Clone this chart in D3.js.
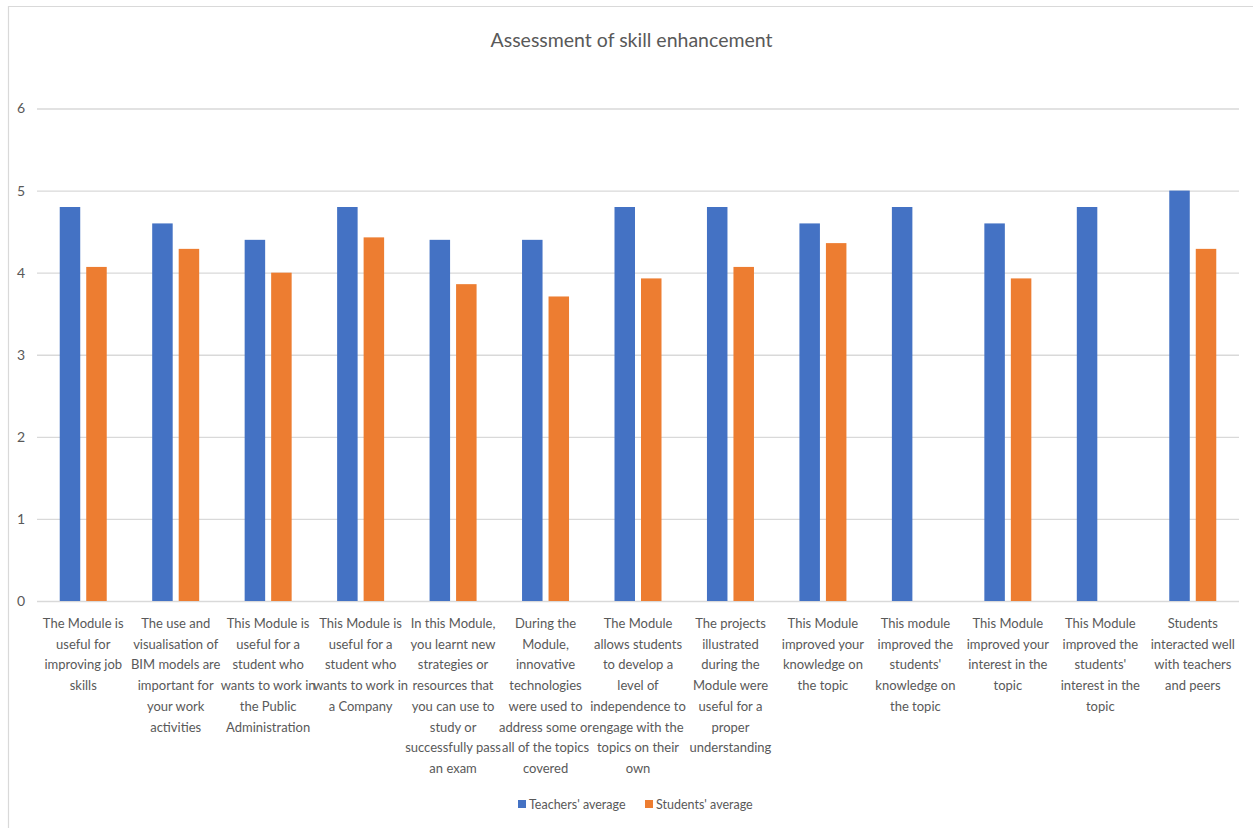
<!DOCTYPE html>
<html>
<head>
<meta charset="utf-8">
<script src="https://cdn.jsdelivr.net/npm/d3@7"></script>
<style>
  html, body { margin: 0; padding: 0; background: #fff; }
  svg { display: block; font-family: Lato, "Open Sans", sans-serif; }
</style>
</head>
<body>
<svg id="chart" width="1253" height="828"></svg>
<script>
// Survey items, each written as the lines it is shown on under the axis
const categories = [
  ["The Module is", "useful for", "improving job", "skills"],
  ["The use and", "visualisation of", "BIM models are", "important for", "your work", "activities"],
  ["This Module is", "useful for a", "student who", "wants to work in", "the Public", "Administration"],
  ["This Module is", "useful for a", "student who", "wants to work in", "a Company"],
  ["In this Module,", "you learnt new", "strategies or", "resources that", "you can use to", "study or", "successfully pass", "an exam"],
  ["During the", "Module,", "innovative", "technologies", "were used to", "address some or", "all of the topics", "covered"],
  ["The Module", "allows students", "to develop a", "level of", "independence to", "engage with the", "topics on their", "own"],
  ["The projects", "illustrated", "during the", "Module were", "useful for a", "proper", "understanding"],
  ["This Module", "improved your", "knowledge on", "the topic"],
  ["This module", "improved the", "students'", "knowledge on", "the topic"],
  ["This Module", "improved your", "interest in the", "topic"],
  ["This Module", "improved the", "students'", "interest in the", "topic"],
  ["Students", "interacted well", "with teachers", "and peers"]
];

const seriesNames = ["Teachers' average", "Students' average"];
const teachersAvg = [4.8, 4.6, 4.4, 4.8, 4.4, 4.4, 4.8, 4.8, 4.6, 4.8, 4.6, 4.8, 5.0];
const studentsAvg = [4.07, 4.29, 4.0, 4.43, 3.86, 3.71, 3.93, 4.07, 4.36, null, 3.93, null, 4.29];
const yTicks = [0, 1, 2, 3, 4, 5, 6];
const titleText = "Assessment of skill enhancement";

const colors = ["#4472C4", "#ED7D31"];
const textColor = "#595959";
const gridColor = "#D9D9D9";

const svg = d3.select("#chart");

// chart area frame
svg.append("path")
  .attr("d", "M8.5,840 V6.5 H1260")
  .attr("fill", "none")
  .attr("stroke", gridColor)
  .attr("stroke-width", 1.2);

svg.append("text")
  .attr("x", 631.5)
  .attr("y", 47)
  .attr("text-anchor", "middle")
  .attr("fill", textColor)
  .style("font-size", "19.5px")
  .text(titleText);

const plot = { left: 37, right: 1239, top: 108.5, bottom: 601 };

const x = d3.scaleBand()
  .domain(d3.range(categories.length))
  .range([plot.left, plot.right])
  .paddingInner(0)
  .paddingOuter(0);

const y = d3.scaleLinear()
  .domain([0, 6])
  .range([plot.bottom, plot.top]);

const barW = 20.5;
const barGap = 6;
const groupW = barW * 2 + barGap;

// horizontal gridlines
const yAxis = d3.axisLeft(y).tickValues(yTicks).tickSize(-(plot.right - plot.left)).tickPadding(12).tickFormat(d3.format("d"));
const gy = svg.append("g").attr("transform", `translate(${plot.left},0)`).call(yAxis);
gy.select(".domain").remove();
gy.selectAll(".tick line").attr("stroke", gridColor).attr("stroke-width", 1.3);
gy.selectAll(".tick text")
  .attr("fill", textColor)
  .attr("text-anchor", "middle")
  .attr("x", 21 - plot.left)
  .style("font-size", "14px")
  .style("font-family", "Lato, 'Open Sans', sans-serif");

const series = [teachersAvg, studentsAvg];
const bars = svg.append("g");
series.forEach((vals, si) => {
  bars.selectAll(null)
    .data(vals.map((v, i) => ({ v, i })).filter(d => d.v != null))
    .enter().append("rect")
    .attr("x", d => x(d.i) + (x.bandwidth() - groupW) / 2 + si * (barW + barGap))
    .attr("y", d => y(d.v))
    .attr("width", barW)
    .attr("height", d => y(0) - y(d.v))
    .attr("fill", colors[si]);
});

// category labels under the axis
const lineH = 20.7;
const labels = svg.append("g");
categories.forEach((lines, i) => {
  const t = labels.append("text")
    .attr("text-anchor", "middle")
    .attr("fill", textColor)
    .style("font-size", "13px");
  lines.forEach((ln, k) => {
    t.append("tspan")
      .attr("x", x(i) + x.bandwidth() / 2)
      .attr("y", 628 + k * lineH)
      .text(ln);
  });
});

// legend
const legend = svg.append("g");
const legendItems = [{ x: 518 }, { x: 645 }];
seriesNames.forEach((name, si) => {
  const lx = legendItems[si].x;
  legend.append("rect")
    .attr("x", lx).attr("y", 800)
    .attr("width", 8).attr("height", 8)
    .attr("fill", colors[si]);
  legend.append("text")
    .attr("x", lx + 11).attr("y", 809)
    .attr("fill", textColor)
    .style("font-size", "12.5px")
    .text(name);
});
</script>
</body>
</html>
